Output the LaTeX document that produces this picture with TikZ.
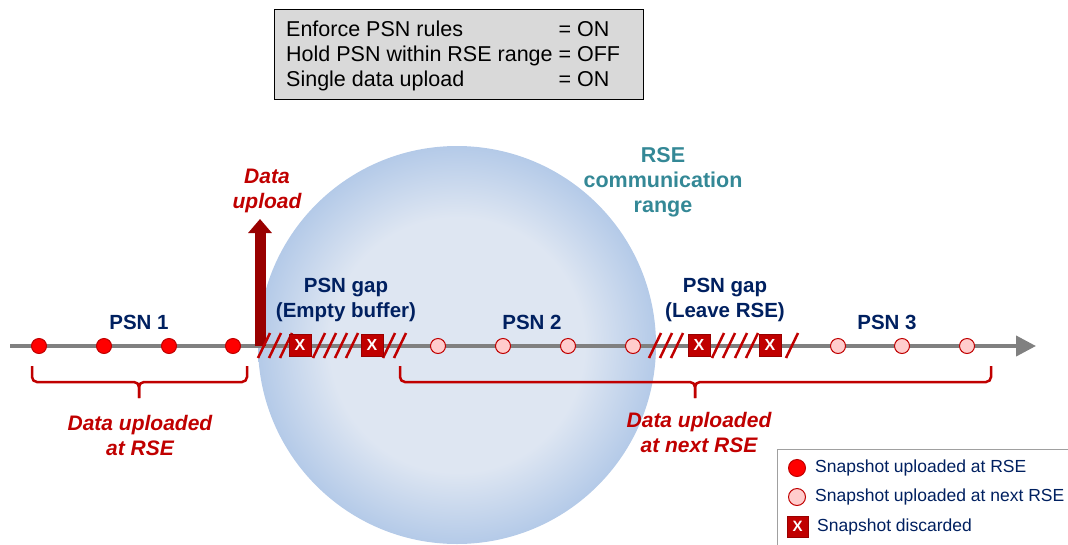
\documentclass[tikz,border=0pt]{standalone}
\usepackage{fontspec}
\setmainfont{Liberation Sans}
\usetikzlibrary{arrows.meta}

\definecolor{navy}{RGB}{0,32,96}
\definecolor{darkred}{RGB}{192,0,0}
\definecolor{arrowred}{RGB}{153,0,0}
\definecolor{rangeteal}{RGB}{52,136,150}
\definecolor{axisgray}{RGB}{128,128,128}
\definecolor{boxgray}{RGB}{217,217,217}
\definecolor{legendgray}{RGB}{160,160,160}
\definecolor{pinkfill}{RGB}{255,204,204}
\definecolor{rangein}{RGB}{222,230,242}
\definecolor{rangeout}{RGB}{180,202,232}

% soft radial fill of the communication range
\pgfdeclareradialshading{rangeshade}{\pgfpoint{0bp}{0bp}}{%
  color(0bp)=(rangein); color(16bp)=(rangein);
  color(25bp)=(rangeout); color(50bp)=(rangeout)}

\tikzset{
  uploaded/.style={circle, fill=red, draw=darkred, line width=1pt,
    minimum size=15pt, inner sep=0pt},
  nextup/.style={circle, fill=pinkfill, draw=darkred, line width=1pt,
    minimum size=15pt, inner sep=0pt},
  discard/.style={rectangle, fill=darkred, draw=arrowred, line width=0.8pt,
    minimum size=22pt, inner sep=0pt, text=white,
    font=\fontsize{16}{16}\selectfont\bfseries},
  hatch/.style={draw=darkred, line width=2.5pt},
  psnlabel/.style={text=navy, align=center, inner sep=0pt,
    font=\fontsize{20.5}{25}\selectfont\bfseries},
  redlabel/.style={text=darkred, align=center, inner sep=0pt,
    font=\fontsize{21}{25}\selectfont\bfseries\itshape},
  bracepath/.style={draw=darkred, line width=2.5pt, rounded corners=5pt},
  legtext/.style={text=navy, anchor=west, inner sep=0pt,
    font=\fontsize{17.5}{20}\selectfont},
}

\begin{document}
\begin{tikzpicture}[x=1pt, y=-1pt]
\useasboundingbox (0,0) rectangle (1068,544);
\clip (0,0) rectangle (1068,544);

% communication range of the roadside unit
\node[circle, minimum size=398pt, inner sep=0pt, shading=rangeshade] (range) at (457,345) {};
\node[text=rangeteal, align=center, inner sep=0pt,
      font=\fontsize{21.5}{25}\selectfont\bfseries] (rangelbl) at (663,182)
  {RSE\\communication\\range};

% settings box
\node[draw=black, fill=boxgray, line width=1pt, minimum width=369pt,
      minimum height=90pt, inner sep=0pt] (settings) at (458.5,54) {};
\node[inner sep=0pt, font=\fontsize{21.5}{25}\selectfont, anchor=west]
  (settingtext) at (286,56)
  {\begin{tabular}{@{}l@{ }l@{}}
    Enforce PSN rules & = ON\\
    Hold PSN within RSE range & = OFF\\
    Single data upload & = ON
  \end{tabular}};

% time axis
\coordinate (axstart) at (10,346);
\coordinate (axend) at (1036,346);
\draw[draw=axisgray, line width=4pt, -{Triangle[length=20pt,width=20pt]}]
  (axstart) -- (axend);

% upload event
\coordinate (upbase) at (260,346);
\coordinate (uptip) at (260,219);
\draw[draw=arrowred, line width=11pt, -{Triangle[length=14pt,width=23pt]}]
  (upbase) -- (uptip);
\node[redlabel] (uplbl) at (267,191) {Data\\upload};

% hatched gaps
\foreach \x in {264,275,286,319,330,341,352,389,400,
                655,666,677,718,729,741,752,792}
  \draw[hatch] (\x-6,358) -- (\x+6,333);

% discarded snapshots
\node[discard] (d1) at (300,345) {X};
\node[discard] (d2) at (372,345) {X};
\node[discard] (d3) at (699,345) {X};
\node[discard] (d4) at (770,345) {X};

% snapshots uploaded at this RSE
\foreach \x [count=\i] in {39,104,169,233}
  \node[uploaded] (u\i) at (\x,346) {};
% snapshots uploaded at the next RSE
\foreach \x [count=\i] in {438,503,568,633,838,902,967}
  \node[nextup] (n\i) at (\x,346) {};

% pseudonym labels
\node[psnlabel] (psn1) at (139,322) {PSN 1};
\node[psnlabel] (psn2) at (532,322) {PSN 2};
\node[psnlabel] (psn3) at (887,322) {PSN 3};
\node[psnlabel] (gap1) at (346,300) {PSN gap\\(Empty buffer)};
\node[psnlabel] (gap2) at (725,300) {PSN gap\\(Leave RSE)};

% braces
\draw[bracepath] (32,366) -- (32,382) -- (139,382) -- (139,398);
\draw[bracepath] (247,366) -- (247,382) -- (139,382) -- (139,398);
\draw[bracepath] (400,366) -- (400,382) -- (695,382) -- (695,398);
\draw[bracepath] (991,366) -- (991,382) -- (695,382) -- (695,398);
\node[redlabel] (brl1) at (140,435) {Data uploaded\\at RSE};
\node[redlabel] (brl2) at (699,432) {Data uploaded\\at next RSE};

% legend
\node[draw=legendgray, fill=white, line width=1pt, anchor=north west,
      minimum width=300pt, minimum height=100pt, inner sep=0pt] (legend) at (777,449) {};
\node[uploaded, minimum size=17pt] (lg1) at (797,468) {};
\node[legtext] (lt1) at (815,468) {Snapshot uploaded at RSE};
\node[nextup, minimum size=17pt] (lg2) at (797,497) {};
\node[legtext] (lt2) at (815,497) {Snapshot uploaded at next RSE};
\node[discard, minimum size=21pt, font=\fontsize{15}{15}\selectfont\bfseries] (lg3) at (797.5,526.5) {X};
\node[legtext] (lt3) at (817,527) {Snapshot discarded};
\end{tikzpicture}
\end{document}
